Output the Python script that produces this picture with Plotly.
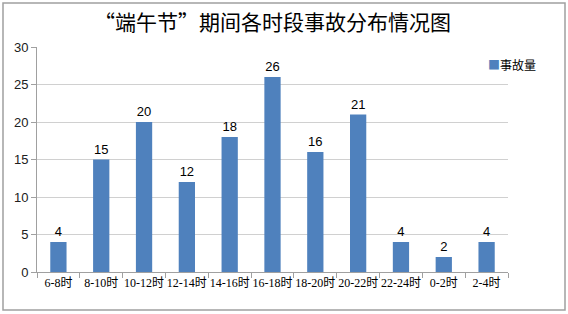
import plotly.graph_objects as go

categories = ["6-8时", "8-10时", "10-12时", "12-14时", "14-16时", "16-18时",
              "18-20时", "20-22时", "22-24时", "0-2时", "2-4时"]
accidents = [4, 15, 20, 12, 18, 26, 16, 21, 4, 2, 4]
series_name = "事故量"
title_text = "“端午节”期间各时段事故分布情况图"
bar_color = "#4F81BD"

W, H = 568, 314
L, R, T, B = 37, 60, 47, 42
pw, ph = W - L - R, H - T - B

def px_x(p):
    return (p - L) / pw

def px_y(p):
    return (H - B - p) / ph

fig = go.Figure()
fig.add_trace(go.Bar(
    x=categories, y=accidents, name=series_name,
    marker=dict(color=bar_color, line=dict(width=0)),
    text=accidents, textposition="outside", cliponaxis=False,
    textfont=dict(size=13, color="#000000", family="Liberation Sans, Arial"),
    showlegend=False,
))

fig.update_layout(
    width=W, height=H,
    margin=dict(l=L, r=R, t=T, b=B, autoexpand=False),
    paper_bgcolor="white", plot_bgcolor="white",
    bargap=0.62,
    showlegend=False,
    title=dict(text=title_text, x=0.5, xref="paper", xanchor="center",
               y=1 - 23 / H, yanchor="middle",
               font=dict(size=21, color="#000000", family="Noto Sans CJK SC")),
    font=dict(family="Noto Sans CJK SC"),
    annotations=[dict(
        text=f"<span style='color:{bar_color}'>■</span>{series_name}",
        xref="paper", yref="paper", x=px_x(486), y=px_y(65),
        xanchor="left", yanchor="middle", showarrow=False,
        font=dict(size=12, color="#000000", family="Noto Sans CJK SC"))],
    shapes=[dict(type="rect", xref="paper", yref="paper",
                 x0=px_x(3), x1=px_x(565), y0=px_y(310), y1=px_y(3),
                 line=dict(color="#A0A0A0", width=1.5), layer="below")],
)

fig.update_yaxes(range=[0, 30], dtick=5, showgrid=True, gridcolor="#D0D0D0",
                 gridwidth=1, zeroline=False, showline=True, linecolor="#A0A0A0",
                 ticks="outside", ticklen=5, tickcolor="#A0A0A0",
                 tickfont=dict(size=13, color="#202020", family="Liberation Sans, Arial"))
fig.update_xaxes(showline=True, linecolor="#A0A0A0", ticks="outside",
                 tickson="boundaries", ticklen=5, tickcolor="#A0A0A0",
                 tickangle=0,
                 tickfont=dict(size=12, color="#000000",
                               family="Liberation Serif, Noto Sans CJK SC"))

fig.write_html("out.html")
